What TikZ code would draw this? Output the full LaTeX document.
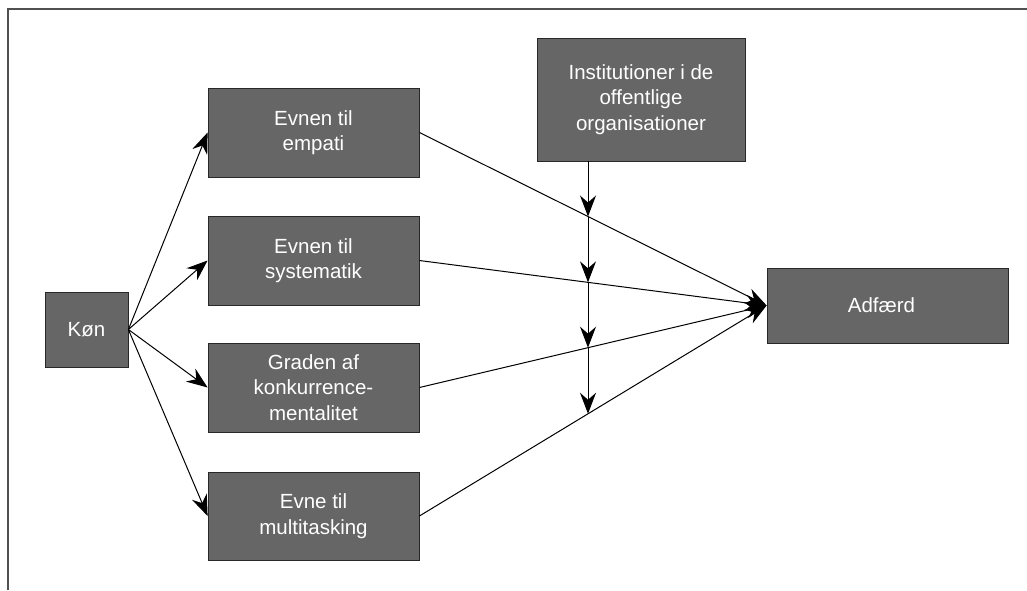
\documentclass[tikz,border=0pt]{standalone}
\usepackage{fontspec}
\setmainfont{Liberation Sans}
\usetikzlibrary{arrows.meta,intersections}
\definecolor{boxfill}{RGB}{102,102,102}
\definecolor{boxline}{RGB}{40,40,40}
\definecolor{framecol}{RGB}{80,80,80}
\begin{document}
\begin{tikzpicture}[x=1pt,y=-1pt,
  box/.style={draw=boxline,line width=0.8pt,fill=boxfill,text=white,align=center,
    inner sep=0pt,font=\fontsize{20.5}{25.5}\selectfont},
  conn/.style={draw=black,line width=1pt,-{Stealth[length=21pt,width=16pt,inset=7pt]}},
  frameline/.style={draw=framecol,line width=2pt}]
\useasboundingbox (0,0) rectangle (1027,590);
\draw[frameline] (8,590) -- (8,9) -- (1027,9);

\node[box,minimum width=83pt,minimum height=75pt] (kon) at (86.5,329.5) {Køn};
\node[box,minimum width=211pt,minimum height=89pt] (emp) at (313.5,132.5) {Evnen til\\empati};
\node[box,minimum width=211pt,minimum height=89pt] (sys) at (313.5,260.5) {Evnen til\\systematik};
\node[box,minimum width=211pt,minimum height=89pt] (gra) at (313.5,387.5) {Graden af\\konkurrence-\\mentalitet};
\node[box,minimum width=211pt,minimum height=88pt] (mul) at (313.5,516) {Evne til\\multitasking};
\node[box,minimum width=208pt,minimum height=123pt] (ins) at (641,99.5) {Institutioner i de\\offentlige\\organisationer};
\node[box,minimum width=241pt,minimum height=75pt] (adf) at (887.5,305.5) {\hspace*{-12pt}Adfærd};

\draw[conn] (kon.east) -- (emp.west);
\draw[conn] (kon.east) -- (sys.west);
\draw[conn] (kon.east) -- (gra.west);
\draw[conn] (kon.east) -- (mul.west);

\draw[conn,name path=l1] (emp.east) -- (adf.west);
\draw[conn,name path=l2] (sys.east) -- (adf.west);
\draw[conn,name path=l3] (gra.east) -- (adf.west);
\draw[conn,name path=l4] (mul.east) -- (adf.west);

\coordinate (v0) at ([xshift=-53pt]ins.south);
\path[name path=vert] (v0) -- ++(0,350);
\path[name intersections={of=vert and l1,by=p1}];
\path[name intersections={of=vert and l2,by=p2}];
\path[name intersections={of=vert and l3,by=p3}];
\path[name intersections={of=vert and l4,by=p4}];
\draw[conn] (v0) -- (p1);
\draw[conn] (p1) -- (p2);
\draw[conn] (p2) -- (p3);
\draw[conn] (p3) -- (p4);
\end{tikzpicture}
\end{document}
